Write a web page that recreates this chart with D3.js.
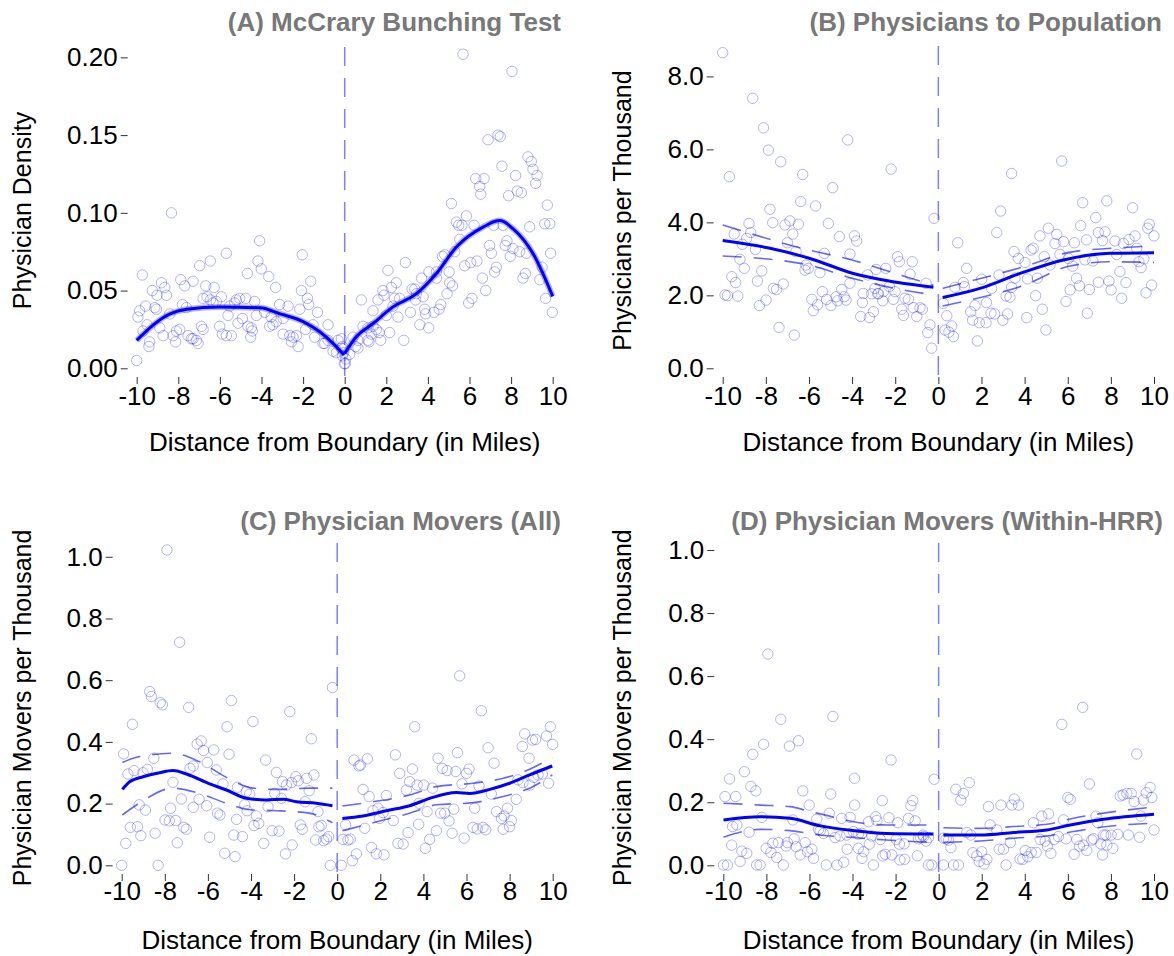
<!DOCTYPE html>
<html><head><meta charset="utf-8">
<script src="https://cdn.jsdelivr.net/npm/d3@7"></script>
<style>body{margin:0;background:#fff}svg{display:block}text{font-family:"Liberation Sans",Arial,sans-serif}</style>
</head><body><svg id="chart" width="1174" height="956"></svg>
<script>
const xTicks = [-10,-8,-6,-4,-2,0,2,4,6,8,10];
const yTicksA = [0,0.05,0.10,0.15,0.20];
const yTicksB = [0,2,4,6,8];
const yTicksC = [0,0.2,0.4,0.6,0.8,1.0];
const yTicksD = [0,0.2,0.4,0.6,0.8,1.0];

const pointsA = [[-8.33,0.100],[-4.09,0.082],[-5.69,0.074],[-6.46,0.069],[-6.97,0.066],[-4.17,0.069],[-4.01,0.064],[-2.04,0.073],[-9.73,0.060],[-4.68,0.061],[-3.65,0.059],[-7.88,0.057],[-7.29,0.056],[-8.81,0.055],[-8.65,0.052],[-7.69,0.053],[-1.63,0.056],[-3.32,0.052],[-6.68,0.053],[-6.28,0.052],[-9.25,0.050],[-9.02,0.047],[-8.57,0.047],[-2.08,0.050],[-1.79,0.045],[-1.73,0.041],[-6.62,0.046],[-6.46,0.044],[-5.93,0.046],[-5.21,0.044],[-5.05,0.045],[-4.76,0.045],[-4.33,0.043],[-5.29,0.042],[-5.53,0.040],[-6.17,0.043],[-6.33,0.042],[-6.81,0.045],[-7.80,0.041],[-7.61,0.039],[-9.57,0.040],[-9.86,0.037],[-9.94,0.033],[-9.13,0.039],[-9.05,0.038],[-8.41,0.035],[-3.13,0.041],[-2.72,0.040],[-2.16,0.038],[-1.31,0.036],[-3.85,0.036],[-3.53,0.033],[-3.29,0.030],[-2.96,0.032],[-4.25,0.034],[-4.92,0.032],[-5.13,0.029],[-5.61,0.034],[-6.01,0.027],[-6.89,0.027],[-6.81,0.025],[-7.93,0.025],[-8.09,0.024],[-8.25,0.021],[-8.73,0.021],[-8.89,0.026],[-9.50,0.028],[-9.70,0.024],[-9.38,0.017],[-9.41,0.014],[-8.13,0.017],[-7.53,0.021],[-7.29,0.019],[-7.13,0.018],[-7.05,0.016],[-7.37,0.019],[-5.88,0.022],[-5.69,0.021],[-5.45,0.021],[-4.49,0.026],[-4.65,0.027],[-4.44,0.024],[-4.52,0.020],[-3.61,0.027],[-3.45,0.028],[-2.96,0.022],[-2.64,0.021],[-2.48,0.020],[-2.32,0.021],[-2.56,0.017],[-2.24,0.014],[-1.88,0.025],[-1.52,0.028],[-0.80,0.028],[-1.44,0.020],[-1.04,0.016],[-0.96,0.016],[-0.80,0.018],[-0.32,0.018],[-0.56,0.011],[-0.40,0.010],[-0.16,0.013],[-0.11,0.008],[-0.05,0.010],[-0.02,0.003],[-10.0,0.005],
[5.69,0.202],[8.04,0.191],[6.89,0.147],[7.37,0.150],[7.48,0.149],[7.56,0.130],[8.81,0.136],[8.97,0.133],[9.05,0.128],[9.25,0.124],[9.18,0.119],[6.30,0.122],[6.70,0.122],[6.49,0.117],[6.54,0.112],[8.22,0.124],[7.88,0.111],[8.30,0.114],[8.49,0.113],[9.74,0.105],[5.13,0.106],[5.85,0.098],[5.37,0.094],[5.48,0.092],[5.64,0.092],[6.22,0.092],[9.62,0.093],[9.86,0.093],[8.89,0.091],[7.16,0.092],[7.61,0.092],[5.53,0.083],[6.97,0.079],[7.80,0.082],[7.72,0.079],[8.09,0.077],[8.41,0.075],[7.96,0.072],[7.05,0.074],[8.73,0.074],[9.90,0.074],[4.70,0.072],[4.81,0.073],[5.29,0.075],[5.77,0.066],[6.06,0.068],[6.36,0.069],[7.29,0.065],[7.21,0.062],[8.69,0.061],[8.57,0.058],[9.49,0.065],[9.38,0.057],[6.62,0.058],[6.78,0.050],[6.12,0.045],[5.96,0.042],[9.66,0.045],[9.98,0.036],[2.92,0.068],[2.08,0.063],[4.05,0.062],[3.69,0.058],[4.41,0.062],[4.41,0.058],[5.02,0.062],[5.05,0.055],[5.18,0.053],[4.92,0.048],[2.48,0.055],[2.24,0.052],[1.84,0.050],[1.89,0.047],[1.60,0.044],[2.40,0.045],[2.64,0.045],[3.24,0.051],[3.37,0.051],[3.45,0.048],[3.77,0.046],[3.41,0.044],[0.80,0.044],[1.36,0.037],[2.00,0.034],[2.32,0.040],[2.56,0.033],[3.16,0.036],[3.85,0.038],[3.89,0.035],[4.29,0.036],[4.54,0.038],[4.62,0.041],[4.04,0.026],[3.61,0.028],[2.16,0.023],[1.73,0.018],[2.84,0.018],[0.88,0.027],[1.12,0.026],[1.36,0.027],[1.28,0.022],[1.52,0.025],[1.65,0.023],[0.40,0.020],[0.64,0.018],[1.12,0.018],[1.17,0.017],[0.53,0.014],[0.64,0.013],[0.24,0.009],[0.03,0.003],[-0.16,0.019],[-0.11,0.014],[0.05,0.006]];
const fitALeft = [[-10,0.018],[-8.4,0.035],[-7.6,0.038],[-6,0.0395],[-4.07,0.0389],[-3.1,0.035],[-2,0.030],[-1.2,0.0235],[-0.56,0.016],[-0.03,0.0085]];
const fitARight = [[0,0.0096],[0.56,0.0203],[1.36,0.0288],[2.32,0.0395],[3.45,0.048],[4.41,0.061],[5.37,0.078],[6.65,0.0908],[7.45,0.095],[8.1,0.0897],[9.06,0.0737],[10,0.0463]];

const pointsB = [[-10.0,8.65],[-8.61,7.40],[-8.11,6.59],[-7.88,5.98],[-7.31,5.66],[-4.20,6.26],[-9.69,5.25],[-6.29,5.31],[-2.19,5.46],[-4.90,4.95],[-6.38,4.57],[-5.69,4.45],[-7.81,4.36],[-7.68,3.99],[-8.78,3.97],[-7.11,3.93],[-6.88,4.04],[-6.49,3.95],[-5.10,3.97],[-0.20,4.11],[-9.47,3.68],[-8.70,3.72],[-8.89,3.56],[-9.09,3.40],[-8.48,3.26],[-6.75,3.68],[-7.00,3.44],[-6.60,3.20],[-4.59,3.61],[-3.89,3.63],[-3.79,3.49],[-4.10,3.13],[-5.29,3.15],[-9.20,2.99],[-9.00,2.74],[-8.19,2.67],[-6.14,2.83],[-6.18,2.69],[-6.03,2.74],[-5.49,2.62],[-2.89,2.71],[-2.44,2.74],[-1.89,3.06],[-1.81,2.92],[-1.21,2.92],[-1.31,2.58],[-9.58,2.51],[-9.40,2.35],[-8.39,2.39],[-7.65,2.19],[-7.50,2.16],[-7.19,2.31],[-4.10,2.33],[-3.28,2.56],[-2.94,2.19],[-2.78,2.05],[-2.55,2.10],[-2.27,2.24],[-2.01,2.10],[-0.57,2.33],[-9.89,2.01],[-9.78,1.99],[-9.30,1.98],[-7.99,1.87],[-8.30,1.72],[-5.87,1.89],[-5.80,1.58],[-5.60,1.74],[-5.38,2.10],[-5.18,1.89],[-4.98,1.72],[-4.74,1.96],[-4.67,1.85],[-4.48,2.16],[-4.37,1.96],[-4.28,1.87],[-3.48,2.05],[-3.52,1.80],[-3.09,2.04],[-2.81,2.04],[-2.58,1.85],[-2.09,1.89],[-1.55,1.92],[-1.39,1.89],[-1.70,1.62],[-1.62,1.45],[-1.16,1.66],[-1.00,1.42],[-0.85,1.66],[-0.74,1.62],[-3.60,1.42],[-3.20,1.39],[-3.01,1.55],[-7.39,1.12],[-6.68,0.91],[-0.39,1.19],[-0.49,0.98],[-0.31,0.55],
[5.72,5.68],[3.40,5.34],[6.69,4.54],[7.81,4.59],[9.01,4.40],[2.89,4.31],[7.30,4.13],[6.60,3.91],[5.10,3.84],[9.78,3.95],[9.71,3.84],[10.0,3.63],[2.71,3.72],[0.90,3.44],[4.71,3.63],[5.49,3.67],[5.41,3.42],[5.80,3.47],[6.31,3.44],[7.42,3.72],[7.73,3.74],[7.61,3.50],[6.87,3.52],[8.19,3.49],[8.58,3.42],[8.84,3.53],[9.12,3.63],[9.20,3.29],[8.27,3.12],[3.51,3.20],[4.30,3.24],[4.40,3.29],[3.71,3.01],[4.02,2.90],[4.91,3.06],[5.18,2.83],[5.64,3.12],[6.03,3.01],[6.23,2.80],[6.80,2.97],[7.16,2.94],[9.30,2.92],[9.53,3.00],[9.40,2.76],[1.31,2.74],[0.77,2.22],[1.16,2.35],[1.21,2.24],[2.01,2.44],[2.81,2.56],[2.47,2.19],[3.55,2.47],[4.13,2.45],[4.59,2.47],[3.40,2.22],[3.14,1.98],[3.32,1.95],[4.51,1.99],[6.41,2.47],[6.54,2.26],[6.11,2.15],[7.00,2.16],[7.42,2.36],[7.91,2.39],[8.01,2.15],[8.42,2.65],[8.70,2.35],[8.50,1.92],[9.63,2.07],[9.89,2.28],[5.92,1.83],[4.82,1.62],[0.23,1.78],[0.39,1.44],[0.62,1.16],[0.31,1.05],[0.49,0.99],[0.70,0.87],[1.50,1.55],[1.59,1.32],[1.70,1.72],[1.90,1.25],[2.21,1.25],[1.81,0.75],[2.23,1.80],[2.44,1.51],[2.61,1.49],[2.99,1.32],[3.21,1.49],[4.10,1.39],[4.99,1.05],[6.91,1.51]];
const fitBLeft = [[-10,3.50],[-7.81,3.29],[-5.95,3.01],[-3.94,2.60],[-2.55,2.42],[-0.23,2.22]];
const fitBRight = [[0.2,1.94],[1.93,2.19],[3.79,2.60],[5.80,2.97],[7.96,3.15],[10,3.17]];
const ciBLeftUp = [[-10,3.93],[-6,3.24],[-4,2.97],[-2,2.60],[-0.23,2.28]];
const ciBLeftLo = [[-10,3.08],[-6,2.83],[-4,2.47],[-2,2.19],[-0.23,2.01]];
const ciBRightUp = [[0.2,2.19],[2,2.47],[4,2.79],[6,3.17],[8,3.29],[10,3.35]];
const ciBRightLo = [[0.2,1.71],[2,1.95],[4,2.28],[6,2.79],[8,2.92],[10,2.90]];

const pointsC = [[-7.90,1.022],[-7.31,0.723],[-0.22,0.576],[-8.70,0.563],[-8.62,0.547],[-8.21,0.527],[-8.11,0.520],[-6.89,0.512],[-4.91,0.534],[-2.20,0.498],[-9.50,0.457],[-3.91,0.466],[-5.11,0.449],[-1.20,0.410],[-6.50,0.393],[-6.31,0.403],[-6.20,0.372],[-5.73,0.374],[-5.02,0.360],[-9.91,0.361],[-8.51,0.347],[-6.03,0.333],[-3.32,0.341],[-9.43,0.307],[-9.71,0.296],[-8.81,0.311],[-9.01,0.300],[-7.62,0.269],[-6.83,0.314],[-6.68,0.322],[-5.61,0.309],[-5.30,0.264],[-4.63,0.253],[-2.82,0.301],[-2.54,0.271],[-2.36,0.260],[-2.12,0.268],[-1.92,0.287],[-1.81,0.274],[-1.42,0.282],[-1.08,0.293],[-1.30,0.242],[-4.22,0.239],[-4.06,0.231],[-2.90,0.233],[-2.59,0.217],[-9.19,0.196],[-8.90,0.179],[-7.23,0.215],[-6.41,0.214],[-6.68,0.188],[-6.06,0.193],[-4.29,0.196],[-4.18,0.177],[-3.21,0.190],[-1.49,0.206],[-0.89,0.174],[-7.73,0.185],[-5.55,0.169],[-5.44,0.163],[-4.67,0.149],[-3.75,0.160],[-3.86,0.129],[-3.64,0.136],[-7.99,0.147],[-7.79,0.144],[-7.49,0.145],[-7.12,0.123],[-7.00,0.117],[-9.60,0.123],[-9.27,0.125],[-9.11,0.096],[-8.45,0.104],[-9.81,0.071],[-7.42,0.073],[-5.92,0.091],[-4.80,0.098],[-4.40,0.093],[-3.02,0.112],[-2.70,0.111],[-1.71,0.131],[-1.62,0.117],[-0.85,0.125],[-0.74,0.129],[-1.00,0.082],[-0.63,0.080],[-0.50,0.085],[-0.40,0.093],[-3.41,0.071],[-2.09,0.066],[-5.22,0.039],[-4.74,0.028],[-2.40,0.037],[-10.0,0.000],[-8.31,0.000],[-0.32,0.000],
[5.68,0.614],[6.69,0.501],[3.60,0.449],[9.89,0.449],[8.70,0.426],[9.06,0.406],[9.21,0.408],[9.71,0.419],[10.0,0.392],[8.59,0.385],[7.00,0.381],[2.70,0.358],[8.90,0.347],[5.58,0.365],[4.68,0.347],[0.78,0.341],[1.01,0.322],[1.08,0.325],[1.40,0.345],[7.28,0.331],[3.49,0.312],[2.90,0.298],[4.88,0.314],[5.10,0.307],[5.50,0.304],[6.12,0.312],[6.00,0.298],[8.39,0.277],[8.62,0.268],[8.93,0.260],[9.12,0.285],[9.32,0.293],[9.52,0.296],[9.81,0.266],[3.36,0.271],[3.71,0.260],[4.02,0.260],[3.21,0.244],[4.42,0.250],[5.79,0.264],[6.58,0.257],[7.15,0.231],[1.20,0.246],[1.48,0.223],[2.28,0.226],[3.80,0.201],[4.17,0.174],[4.80,0.169],[4.99,0.169],[5.19,0.144],[5.41,0.182],[6.38,0.185],[7.39,0.174],[7.90,0.185],[7.62,0.152],[7.74,0.160],[8.08,0.145],[8.00,0.125],[7.70,0.117],[8.31,0.214],[1.89,0.185],[1.97,0.152],[2.13,0.171],[2.60,0.145],[1.66,0.177],[0.39,0.131],[1.28,0.120],[3.78,0.133],[4.60,0.112],[5.33,0.104],[6.30,0.123],[6.50,0.118],[6.77,0.123],[6.89,0.115],[3.29,0.106],[4.29,0.084],[0.27,0.084],[0.50,0.082],[0.61,0.085],[2.82,0.071],[3.06,0.069],[1.59,0.058],[4.09,0.055],[5.89,0.088],[0.89,0.037],[0.70,0.015],[1.82,0.037],[2.17,0.034],[0.19,0.000]];
const fitCLeft = [[-9.97,0.246],[-9.63,0.271],[-9.01,0.287],[-8.24,0.300],[-7.62,0.307],[-7.0,0.296],[-5.92,0.264],[-5.14,0.244],[-4.21,0.217],[-3.29,0.212],[-2.51,0.214],[-1.89,0.206],[-0.97,0.201],[-0.22,0.193]];
const fitCRight = [[0.24,0.152],[1.2,0.160],[2.28,0.177],[3.36,0.193],[4.29,0.217],[5.53,0.236],[6.15,0.233],[7.08,0.246],[8.0,0.266],[8.93,0.293],[9.98,0.322]];
const ciCLeftUp = [[-9.97,0.333],[-9.3,0.350],[-7.62,0.363],[-6.4,0.336],[-5.14,0.285],[-3.9,0.250],[-2.8,0.246],[-1.3,0.250],[-0.22,0.250]];
const ciCLeftLo = [[-9.97,0.163],[-9.15,0.203],[-7.62,0.250],[-6.4,0.233],[-5.14,0.201],[-3.9,0.179],[-2.8,0.177],[-1.3,0.169],[-0.22,0.138]];
const ciCRightUp = [[0.24,0.192],[1.66,0.206],[3.36,0.228],[4.6,0.255],[6.3,0.266],[7.7,0.282],[8.93,0.311],[9.98,0.350]];
const ciCRightLo = [[0.24,0.112],[1.66,0.138],[3.36,0.169],[4.6,0.196],[6.3,0.203],[7.7,0.223],[8.93,0.250],[9.98,0.293]];

const pointsD = [[-7.93,0.670],[-4.91,0.472],[-7.33,0.463],[-8.13,0.384],[-6.51,0.395],[-6.93,0.378],[-8.63,0.352],[-2.21,0.334],[-9.02,0.297],[-9.71,0.274],[-3.91,0.276],[-8.72,0.250],[-8.49,0.236],[-6.31,0.236],[-9.92,0.218],[-9.42,0.218],[-5.01,0.226],[-2.62,0.205],[-1.20,0.205],[-1.29,0.189],[-6.01,0.191],[-3.90,0.191],[-5.08,0.165],[-8.21,0.152],[-6.77,0.144],[-5.66,0.146],[-4.50,0.149],[-4.11,0.152],[-3.26,0.138],[-2.92,0.154],[-2.31,0.151],[-1.90,0.135],[-1.40,0.149],[-1.09,0.141],[-2.87,0.142],[-9.57,0.123],[-9.37,0.128],[-8.80,0.105],[-5.58,0.114],[-5.35,0.101],[-5.50,0.110],[-4.81,0.088],[-4.58,0.093],[-4.27,0.096],[-3.96,0.107],[-3.73,0.099],[-3.57,0.101],[-3.10,0.093],[-2.71,0.082],[-1.97,0.082],[-1.82,0.067],[-1.60,0.068],[-0.94,0.084],[-0.83,0.088],[-0.70,0.091],[-0.47,0.088],[-0.58,0.077],[-0.73,0.096],[-9.61,0.064],[-9.14,0.045],[-8.91,0.038],[-9.22,0.012],[-8.01,0.054],[-7.79,0.041],[-7.52,0.025],[-7.70,0.070],[-7.44,0.072],[-7.02,0.072],[-7.08,0.061],[-6.62,0.059],[-6.43,0.033],[-6.20,0.072],[-6.09,0.043],[-5.89,0.051],[-5.81,0.022],[-6.71,0.084],[-4.25,0.051],[-3.73,0.054],[-3.48,0.043],[-3.56,0.022],[-3.22,0.067],[-2.60,0.030],[-2.48,0.035],[-2.17,0.033],[-1.80,0.017],[-1.58,0.019],[-0.99,0.030],[-4.41,0.010],[-4.72,0.001],[-5.22,0.001],[-7.21,0.001],[-3.03,0.001],[-9.99,0.001],[-9.81,0.001],[-8.45,0.001],[-8.29,0.001],[-0.47,0.001],[-0.32,0.001],[-0.21,0.273],
[6.69,0.501],[5.72,0.447],[9.20,0.353],[7.00,0.258],[0.80,0.241],[1.42,0.262],[1.15,0.228],[1.03,0.207],[2.31,0.186],[2.89,0.191],[3.40,0.191],[3.51,0.210],[3.71,0.191],[6.00,0.215],[6.11,0.209],[8.43,0.220],[8.56,0.223],[8.74,0.228],[8.94,0.228],[9.08,0.202],[9.51,0.207],[9.64,0.230],[9.82,0.247],[9.90,0.215],[7.31,0.156],[4.40,0.135],[4.79,0.156],[5.10,0.163],[5.80,0.144],[9.39,0.156],[8.81,0.096],[9.33,0.089],[10.0,0.112],[7.76,0.096],[8.01,0.096],[8.32,0.098],[7.66,0.096],[7.39,0.135],[1.31,0.104],[1.49,0.096],[2.39,0.128],[2.70,0.112],[0.57,0.056],[0.35,0.084],[0.23,0.086],[0.46,0.080],[1.59,0.040],[1.77,0.030],[2.00,0.043],[1.88,0.012],[2.11,0.004],[2.24,0.019],[2.81,0.051],[3.01,0.051],[3.33,0.072],[3.13,0.001],[3.78,0.020],[3.91,0.019],[4.02,0.047],[4.14,0.027],[4.30,0.041],[4.53,0.041],[4.71,0.082],[4.95,0.077],[5.05,0.061],[5.21,0.038],[5.36,0.082],[5.56,0.091],[5.92,0.084],[6.29,0.035],[6.42,0.082],[6.54,0.061],[6.72,0.064],[6.88,0.047],[7.11,0.080],[7.19,0.084],[7.53,0.068],[7.61,0.033],[7.81,0.064],[8.09,0.054],[0.22,0.001],[0.69,0.001],[0.92,0.001]];
const fitDLeft = [[-9.99,0.144],[-8.29,0.154],[-6.9,0.149],[-5.5,0.125],[-3.95,0.110],[-2.41,0.101],[-0.24,0.099]];
const fitDRight = [[0.22,0.096],[1.93,0.096],[3.48,0.104],[5.02,0.112],[6.11,0.128],[7.65,0.146],[10.0,0.162]];
const ciDLeftUp = [[-9.99,0.197],[-8.29,0.191],[-6.9,0.186],[-5.96,0.170],[-5.5,0.163],[-3.95,0.138],[-2.41,0.128],[-0.47,0.128]];
const ciDLeftLo = [[-9.99,0.089],[-8.29,0.114],[-6.9,0.110],[-5.5,0.096],[-3.95,0.088],[-2.41,0.080],[-0.47,0.073]];
const ciDRightUp = [[0.22,0.119],[1.93,0.117],[3.48,0.123],[5.02,0.130],[6.26,0.149],[7.81,0.167],[9.74,0.183]];
const ciDRightLo = [[0.22,0.073],[1.93,0.077],[3.48,0.086],[5.02,0.093],[6.26,0.107],[7.81,0.123],[9.74,0.133]];

const panels = [
  {title:"(A) McCrary Bunching Test", yLabel:"Physician Density", points:pointsA, fits:[fitALeft,fitARight], cis:[], band:true,
   yDomain:[0,0.203], yTicks:yTicksA, fmt:d3.format(".2f"),
   xr:[136.7,552.7], yr:[368.3,52.7], vTop:47, vBot:381, titleX:561, titleY:22, yTitleX:22, tickTop:377, tickLabY:396, xTitleY:442},
  {title:"(B) Physicians to Population", yLabel:"Physicians per Thousand", points:pointsB, fits:[fitBLeft,fitBRight], cis:[ciBLeftUp,ciBLeftLo,ciBRightUp,ciBRightLo],
   yDomain:[0,8.65], yTicks:yTicksB, fmt:d3.format(".1f"),
   xr:[722.7,1154], yr:[368.3,52.7], vTop:46, vBot:381, titleX:1162, titleY:22, yTitleX:622, tickTop:377, tickLabY:396, xTitleY:442},
  {title:"(C) Physician Movers (All)", yLabel:"Physician Movers per Thousand", points:pointsC, fits:[fitCLeft,fitCRight], cis:[ciCLeftUp,ciCLeftLo,ciCRightUp,ciCRightLo],
   yDomain:[0,1.02], yTicks:yTicksC, fmt:d3.format(".1f"),
   xr:[121.7,552.7], yr:[865.3,550.6], vTop:543, vBot:877, titleX:561, titleY:521, yTitleX:22, tickTop:874, tickLabY:891, xTitleY:940},
  {title:"(D) Physician Movers (Within-HRR)", yLabel:"Physician Movers per Thousand", points:pointsD, fits:[fitDLeft,fitDRight], cis:[ciDLeftUp,ciDLeftLo,ciDRightUp,ciDRightLo],
   yDomain:[0,1.0], yTicks:yTicksD, fmt:d3.format(".1f"),
   xr:[723.3,1154], yr:[865.3,550], vTop:543, vBot:877, titleX:1163, titleY:521, yTitleX:622, tickTop:874, tickLabY:891, xTitleY:940}
];

const svg = d3.select("#chart");
const BLUE = "#0000ff";
const FS = 26;
const FONT = '"Liberation Sans",Arial,sans-serif';

panels.forEach(p => {
  const x = d3.scaleLinear().domain([-10,10]).range(p.xr);
  const y = d3.scaleLinear().domain(p.yDomain).range(p.yr);
  const g = svg.append("g");

  const yAxis = g.append("g").attr("transform", `translate(${p.xr[0]-9},0)`)
    .call(d3.axisLeft(y).tickValues(p.yTicks).tickFormat(p.fmt).tickSize(7).tickPadding(3));
  yAxis.select(".domain").remove();
  yAxis.selectAll("line").attr("stroke","#333");
  yAxis.selectAll("text").attr("font-size",FS).attr("fill","#000").attr("font-family",FONT);

  const xAxis = g.append("g").attr("transform", `translate(0,${p.tickTop})`)
    .call(d3.axisBottom(x).tickValues(xTicks).tickFormat(d => String(d)).tickSize(7).tickPadding(0));
  xAxis.select(".domain").remove();
  xAxis.selectAll("line").attr("stroke","#333");
  xAxis.selectAll("text").attr("font-size",FS).attr("fill","#000").attr("font-family",FONT)
    .attr("y", p.tickLabY - p.tickTop).attr("dy","0.35em");

  g.append("text").attr("x", x(0)).attr("y", p.xTitleY).attr("dy","0.35em")
    .attr("text-anchor","middle").attr("font-size",FS).text("Distance from Boundary (in Miles)");
  const yMid = (p.yr[0]+p.yr[1])/2;
  g.append("text").attr("transform",`translate(${p.yTitleX},${yMid}) rotate(-90)`).attr("dy","0.35em")
    .attr("text-anchor","middle").attr("font-size",25).text(p.yLabel);

  g.append("text").attr("x",p.titleX).attr("y",p.titleY).attr("dy","0.35em").attr("text-anchor","end")
    .attr("font-size",FS).attr("font-weight","bold").attr("fill","#787878").text(p.title);

  g.append("g").selectAll("circle").data(p.points).join("circle")
    .attr("cx",d=>x(d[0])).attr("cy",d=>y(d[1])).attr("r",5.2)
    .attr("fill","none").attr("stroke",BLUE).attr("stroke-opacity",0.3).attr("stroke-width",1);

  g.append("line").attr("x1",x(0)).attr("x2",x(0)).attr("y1",p.vTop).attr("y2",p.vBot)
    .attr("stroke",BLUE).attr("stroke-opacity",0.5).attr("stroke-width",1.5).attr("stroke-dasharray","19,12");

  const line = d3.line().x(d=>x(d[0])).y(d=>y(d[1])).curve(d3.curveMonotoneX);
  p.cis.forEach(c => {
    g.append("path").attr("d",line(c)).attr("fill","none").attr("stroke",BLUE)
      .attr("stroke-opacity",0.6).attr("stroke-width",1.6).attr("stroke-dasharray","19,12");
  });
  p.fits.forEach(f => {
    if (p.band) {
      g.append("path").attr("d",line(f)).attr("fill","none").attr("stroke",BLUE)
        .attr("stroke-opacity",0.3).attr("stroke-width",6);
    }
    g.append("path").attr("d",line(f)).attr("fill","none").attr("stroke",BLUE).attr("stroke-width",3);
  });
});
</script></body></html>
